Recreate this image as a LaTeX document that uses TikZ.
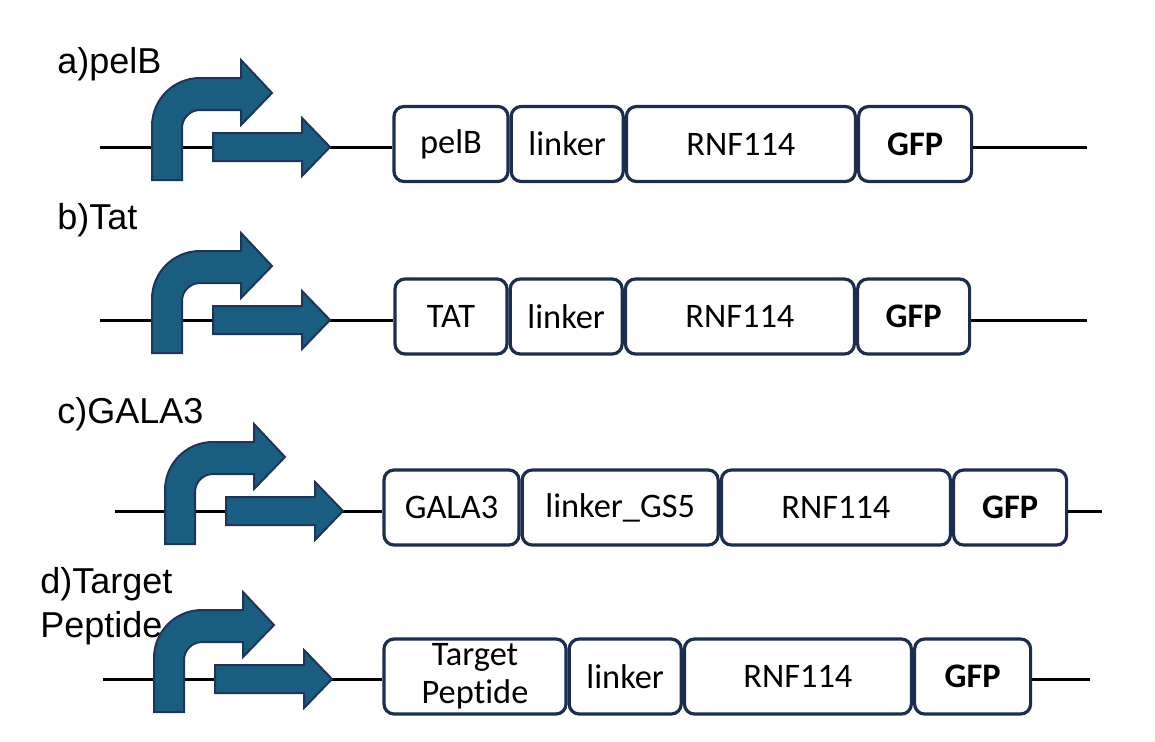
\documentclass[tikz,border=0pt]{standalone}
\usepackage{fontspec}
\setmainfont{Carlito}[Ligatures=NoCommon]
\newfontfamily\labelfont{Liberation Sans}
\usetikzlibrary{positioning}

\definecolor{promblue}{RGB}{25,94,128}
\definecolor{promedge}{RGB}{30,52,88}
\definecolor{partedge}{RGB}{28,45,78}

\tikzset{
  part/.style={draw=partedge, line width=1.6pt, rounded corners=5pt,
    minimum height=37.5pt, inner sep=0pt, align=center,
    font=\fontsize{17.2}{18.5}\selectfont},
  rowlabel/.style={anchor=base west, inner sep=0pt, align=left,
    font=\labelfont\fontsize{18}{18}\selectfont},
  backbone/.style={line width=1.5pt},
  promoter/.pic={
    % bent arrow
    \draw[fill=promblue, draw=promedge, line width=1pt]
      (0,33) -- (0,-21) arc[start angle=180, end angle=270, radius=48]
      -- (89,-69) -- (89,-87) -- (120,-54) -- (89,-22) -- (89,-37)
      -- (48,-37) arc[start angle=270, end angle=180, radius=18]
      -- (30,33) -- cycle;
    % straight arrow
    \draw[fill=promblue, draw=promedge, line width=1pt]
      (61,-14) -- (150,-14) -- (150,-29) -- (178,0) -- (150,29)
      -- (150,14) -- (61,14) -- cycle;
  }
}

\begin{document}
\begin{tikzpicture}[x=0.5pt,y=-0.5pt]
  \useasboundingbox (0,0) rectangle (1155,741);

  % a) pelB
  \node[rowlabel] (lblA) at (57,73) {a)pelB};
  \coordinate (aL) at (100,147);
  \coordinate (aR) at (1087,147);
  \node[part, minimum width=57pt] (aSig) at (451,144) {pelB};
  \node[part, minimum width=56pt, right=0pt of aSig] (aLink) {linker};
  \node[part, minimum width=114.5pt, right=0pt of aLink] (aRnf) {RNF114};
  \node[part, minimum width=56.5pt, right=0pt of aRnf] (aGfp) {\textbf{GFP}};
  \draw[backbone] (aL) -- (aL -| aSig.west);
  \draw[backbone] (aGfp.east |- aR) -- (aR);
  \pic at (152,147) {promoter};

  % b) Tat
  \node[rowlabel] (lblB) at (57,229) {b)Tat};
  \coordinate (bL) at (100,320);
  \coordinate (bR) at (1087,320);
  \node[part, minimum width=56pt] (bSig) at (451,316.5) {TAT};
  \node[part, minimum width=56pt, right=0pt of bSig] (bLink) {linker};
  \node[part, minimum width=114.5pt, right=0pt of bLink] (bRnf) {RNF114};
  \node[part, minimum width=56pt, right=0pt of bRnf] (bGfp) {\textbf{GFP}};
  \draw[backbone] (bL) -- (bL -| bSig.west);
  \draw[backbone] (bGfp.east |- bR) -- (bR);
  \pic at (152,320) {promoter};

  % c) GALA3
  \node[rowlabel] (lblC) at (57,423) {c)GALA3};
  \coordinate (cL) at (115,511);
  \coordinate (cR) at (1102,511);
  \node[part, minimum width=67.5pt] (cSig) at (451.5,507.5) {GALA3};
  \node[part, minimum width=98pt, right=0pt of cSig] (cLink) {linker\_GS5};
  \node[part, minimum width=114.5pt, right=0pt of cLink] (cRnf) {RNF114};
  \node[part, minimum width=56.5pt, right=0pt of cRnf] (cGfp) {\textbf{GFP}};
  \draw[backbone] (cL) -- (cL -| cSig.west);
  \draw[backbone] (cGfp.east |- cR) -- (cR);
  \pic at (165,511) {promoter};

  % d) Target Peptide
  \node[rowlabel, font=\labelfont\fontsize{18}{22}\selectfont] (lblD) at (40,637) {d)Target\\Peptide};
  \coordinate (dL) at (103,679);
  \coordinate (dR) at (1090,679);
  \node[part, minimum width=91pt, font=\fontsize{17.2}{19}\selectfont] (dSig) at (475,676.5) {Target\\Peptide};
  \node[part, minimum width=56pt, right=0pt of dSig] (dLink) {linker};
  \node[part, minimum width=113.5pt, right=0pt of dLink] (dRnf) {RNF114};
  \node[part, minimum width=58pt, right=0pt of dRnf] (dGfp) {\textbf{GFP}};
  \draw[backbone] (dL) -- (dL -| dSig.west);
  \draw[backbone] (dGfp.east |- dR) -- (dR);
  \pic at (154,679) {promoter};
\end{tikzpicture}
\end{document}
